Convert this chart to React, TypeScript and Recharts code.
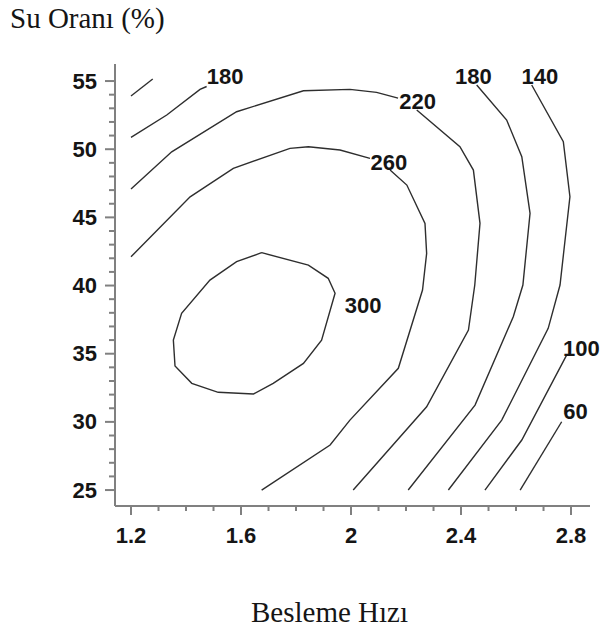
import { LineChart, Line, XAxis, YAxis, ReferenceDot } from "recharts";

// axis ticks (minor every step, labelled only on majors)
const xTicks = [1.2, 1.3, 1.4, 1.5, 1.6, 1.7, 1.8, 1.9, 2.0, 2.1, 2.2, 2.3, 2.4, 2.5, 2.6, 2.7, 2.8];
const xMajor = [1.2, 1.6, 2, 2.4, 2.8];
const yTicks = [25, 26, 27, 28, 29, 30, 31, 32, 33, 34, 35, 36, 37, 38, 39, 40, 41, 42, 43, 44, 45, 46, 47, 48, 49, 50, 51, 52, 53, 54, 55];
const yMajor = [25, 30, 35, 40, 45, 50, 55];

// contour lines (x = Besleme Hızı, y = Su Oranı)
const c140Left = [
  { x: 1.2, y: 53.9 },
  { x: 1.279, y: 55.15 },
];
const c180Left = [
  { x: 1.2, y: 50.87 },
  { x: 1.33, y: 52.51 },
  { x: 1.451, y: 54.39 },
  { x: 1.475, y: 54.6 },
];
const c220Top = [
  { x: 1.2, y: 47.08 },
  { x: 1.348, y: 49.81 },
  { x: 1.584, y: 52.75 },
  { x: 1.827, y: 54.29 },
  { x: 1.996, y: 54.39 },
  { x: 2.093, y: 54.17 },
  { x: 2.171, y: 53.75 },
];
const c220Right = [
  { x: 2.239, y: 52.87 },
  { x: 2.396, y: 50.18 },
  { x: 2.445, y: 48.47 },
  { x: 2.469, y: 44.56 },
  { x: 2.45, y: 40.04 },
  { x: 2.427, y: 36.74 },
  { x: 2.275, y: 31.11 },
  { x: 2.008, y: 25 },
];
const c260Top = [
  { x: 1.2, y: 42.11 },
  { x: 1.415, y: 46.51 },
  { x: 1.572, y: 48.6 },
  { x: 1.778, y: 50.06 },
  { x: 1.845, y: 50.18 },
  { x: 1.96, y: 49.94 },
  { x: 2.069, y: 49.33 },
];
const c260Right = [
  { x: 2.142, y: 48.47 },
  { x: 2.203, y: 47.37 },
  { x: 2.269, y: 44.56 },
  { x: 2.275, y: 42.36 },
  { x: 2.26, y: 39.67 },
  { x: 2.172, y: 33.93 },
  { x: 1.996, y: 30.13 },
  { x: 1.924, y: 28.3 },
  { x: 1.675, y: 25 },
];
const c300 = [
  { x: 1.675, y: 42.41 },
  { x: 1.845, y: 41.5 },
  { x: 1.917, y: 40.53 },
  { x: 1.942, y: 39.43 },
  { x: 1.893, y: 36.0 },
  { x: 1.827, y: 34.29 },
  { x: 1.717, y: 32.83 },
  { x: 1.645, y: 32.04 },
  { x: 1.517, y: 32.17 },
  { x: 1.421, y: 32.83 },
  { x: 1.36, y: 34.1 },
  { x: 1.354, y: 36.0 },
  { x: 1.384, y: 37.96 },
  { x: 1.487, y: 40.4 },
  { x: 1.584, y: 41.75 },
  { x: 1.675, y: 42.41 },
];
const c180Right = [
  { x: 2.457, y: 54.71 },
  { x: 2.566, y: 52.14 },
  { x: 2.621, y: 49.45 },
  { x: 2.651, y: 45.3 },
  { x: 2.625, y: 40.04 },
  { x: 2.59, y: 37.71 },
  { x: 2.451, y: 31.23 },
  { x: 2.208, y: 25 },
];
const c140Right = [
  { x: 2.657, y: 54.71 },
  { x: 2.772, y: 50.55 },
  { x: 2.796, y: 46.51 },
  { x: 2.76, y: 40.04 },
  { x: 2.717, y: 36.86 },
  { x: 2.548, y: 30.13 },
  { x: 2.354, y: 25 },
];
const c100 = [
  { x: 2.784, y: 34.9 },
  { x: 2.621, y: 28.67 },
  { x: 2.487, y: 25 },
];
const c60 = [
  { x: 2.766, y: 30.01 },
  { x: 2.615, y: 25 },
];

const contours = [c140Left, c180Left, c220Top, c220Right, c260Top, c260Right, c300, c180Right, c140Right, c100, c60];

const contourLabels = [
  { text: "180", x: 1.542, y: 55.33 },
  { text: "220", x: 2.242, y: 53.53 },
  { text: "180", x: 2.445, y: 55.33 },
  { text: "140", x: 2.687, y: 55.33 },
  { text: "260", x: 2.138, y: 49.02 },
  { text: "300", x: 2.044, y: 38.57 },
  { text: "100", x: 2.838, y: 35.38 },
  { text: "60", x: 2.816, y: 30.76 },
];

const W = 601;
const H = 630;
const M = { top: 64, right: 11, left: 55, bottom: 84 };
const Y_W = 60;
const X_H = 40;
const PL = M.left + Y_W; // left edge of plot
const PB = H - M.bottom - X_H; // bottom edge of plot

const AXIS = "#808080";
const INK = "#151515";
const SANS = "'Liberation Sans', Arial, sans-serif";
const SERIF = "'Liberation Serif', 'Times New Roman', serif";

const isMajor = (v: number, majors: number[]) => majors.some((m) => Math.abs(m - v) < 1e-6);

const YTick = (props: any) => {
  const { y, payload } = props;
  const major = isMajor(payload.value, yMajor);
  return (
    <g>
      <line x1={PL - (major ? 10 : 6)} x2={PL} y1={y} y2={y} stroke={AXIS} strokeWidth={2} />
      {major && (
        <text x={PL - 18} y={y} textAnchor="end" dominantBaseline="central" fontFamily={SANS} fontWeight="bold" fontSize={22} fill={INK}>
          {payload.value}
        </text>
      )}
    </g>
  );
};

const XTick = (props: any) => {
  const { x, payload } = props;
  const major = isMajor(payload.value, xMajor);
  return (
    <g>
      <line x1={x} x2={x} y1={PB} y2={PB + (major ? 9 : 5)} stroke={AXIS} strokeWidth={2} />
      {major && (
        <text x={x} y={PB + 37} textAnchor="middle" fontFamily={SANS} fontWeight="bold" fontSize={22} fill={INK}>
          {String(Math.round(payload.value * 10) / 10)}
        </text>
      )}
    </g>
  );
};

const ContourText = (text: string) => (p: any) => (
  <text x={p.cx} y={p.cy} textAnchor="middle" dominantBaseline="central" fontFamily={SANS} fontWeight="bold" fontSize={22} fill={INK}>
    {text}
  </text>
);

export default function App() {
  return (
    <div style={{ position: "absolute", left: 0, top: 0, width: W, height: H, background: "#fff" }}>
      <LineChart width={W} height={H} margin={M}>
        <XAxis
          type="number"
          dataKey="x"
          domain={[1.1418, 2.869]}
          ticks={xTicks}
          interval={0}
          height={X_H}
          tick={<XTick />}
          tickLine={false}
          axisLine={{ stroke: AXIS, strokeWidth: 2 }}
          allowDataOverflow
        />
        <YAxis
          type="number"
          dataKey="y"
          domain={[23.83, 56.25]}
          ticks={yTicks}
          interval={0}
          width={Y_W}
          tick={<YTick />}
          tickLine={false}
          axisLine={{ stroke: AXIS, strokeWidth: 2 }}
          allowDataOverflow
        />
        {contours.map((c, i) => (
          <Line
            key={i}
            data={c}
            dataKey="y"
            type="linear"
            stroke="#2e2e2e"
            strokeWidth={1.4}
            dot={false}
            activeDot={false}
            isAnimationActive={false}
          />
        ))}
        {contourLabels.map((l, i) => (
          <ReferenceDot key={i} x={l.x} y={l.y} r={0} ifOverflow="visible" shape={ContourText(l.text)} />
        ))}
      </LineChart>
      <svg width={W} height={H} style={{ position: "absolute", left: 0, top: 0, pointerEvents: "none" }}>
        <text x={10} y={28} fontFamily={SERIF} fontSize={29} fill={INK}>
          Su Oranı (%)
        </text>
        <text x={251} y={622} fontFamily={SERIF} fontSize={29} fill={INK}>
          Besleme Hızı
        </text>
      </svg>
    </div>
  );
}
